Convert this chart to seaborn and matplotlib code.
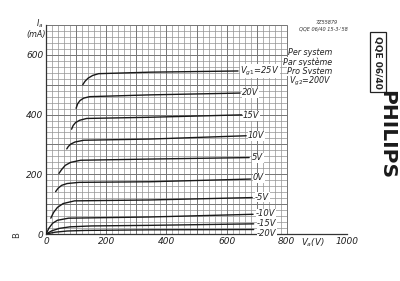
import matplotlib
matplotlib.use("Agg")
import matplotlib.pyplot as plt
import seaborn as sns
import pandas as pd
import numpy as np

# ---- data ----
grid_voltages = ["25V", "20V", "15V", "10V", "5V", "0V", "-5V", "-10V", "-15V", "-20V"]
va_25 = [122, 130, 140, 155, 175, 346, 638]
ia_25 = [500, 512, 522, 531, 537, 542, 546]
va_20 = [100, 105, 113, 125, 145, 346, 645]
ia_20 = [421, 436, 447, 455, 460, 466, 472]
va_15 = [85, 90, 98, 112, 135, 346, 650]
ia_15 = [351, 363, 373, 381, 387, 391, 399]
va_10 = [69, 74, 82, 96, 125, 346, 665]
ia_10 = [285, 293, 301, 308, 314, 318, 329]
va_5 = [43, 52, 64, 82, 115, 346, 675]
ia_5 = [203, 216, 230, 240, 247, 251, 256]
va_0 = [32, 40, 52, 70, 110, 346, 680]
ia_0 = [142, 153, 163, 169, 173, 175, 184]
va_m5 = [16, 25, 38, 57, 95, 346, 685]
ia_m5 = [53, 72, 89, 102, 111, 114, 122]
va_m10 = [0, 10, 22, 38, 75, 346, 688]
ia_m10 = [0, 20, 36, 46, 53, 57, 66]
va_m15 = [0, 20, 45, 80, 150, 346, 690]
ia_m15 = [0, 11, 19, 24, 27, 29, 34]
va_m20 = [0, 30, 70, 130, 346, 690]
ia_m20 = [0, 6, 10, 12, 14, 15]

x_ticks = [0, 200, 400, 600, 800, 1000]
y_ticks = [0, 200, 400, 600]

curves = [(va_25, ia_25), (va_20, ia_20), (va_15, ia_15), (va_10, ia_10),
          (va_5, ia_5), (va_0, ia_0), (va_m5, ia_m5), (va_m10, ia_m10),
          (va_m15, ia_m15), (va_m20, ia_m20)]
frames = []
for name, (xs, ys) in zip(grid_voltages, curves):
    frames.append(pd.DataFrame({"Va": xs, "Ia": ys, "Vg1": name}))
df = pd.concat(frames, ignore_index=True)

# ---- figure ----
sns.set_style("white")
plt.rcParams["font.family"] = ["DejaVu Sans"]
W, H = 400, 281
fig = plt.figure(figsize=(4.0, 2.81), dpi=100)
x0, x1, y0, y1 = 46, 347, 234, 25
ax = fig.add_axes([x0 / W, 1 - y0 / H, (x1 - x0) / W, (y0 - y1) / H])
ax.set_xlim(0, 1000)
ax.set_ylim(0, 700)

# grid (only over 0..800 V, 0..700 mA)
gx = np.arange(0, 801, 20)
gy = np.arange(0, 701, 20)
ax.vlines(gx, 0, 700, colors="#929292", linewidth=0.5, zorder=1)
ax.hlines(gy, 0, 800, colors="#929292", linewidth=0.5, zorder=1)
ax.vlines(gx[::5], 0, 700, colors="#777777", linewidth=0.7, zorder=1)
ax.hlines(gy[::5], 0, 800, colors="#777777", linewidth=0.7, zorder=1)

for name in grid_voltages:
    sub = df[df["Vg1"] == name]
    sns.lineplot(data=sub, x="Va", y="Ia", ax=ax, color="#1a1a1a",
                 linewidth=1.0, sort=False, estimator=None, legend=False, zorder=3)

for s in ["top", "right"]:
    ax.spines[s].set_visible(False)
for s in ["left", "bottom"]:
    ax.spines[s].set_color("#333333")
    ax.spines[s].set_linewidth(0.9)
ax.set_xticks(x_ticks)
ax.set_yticks(y_ticks)
ax.set_xticklabels([str(v) for v in x_ticks], fontsize=6.5, style="italic", color="#222")
ax.set_yticklabels([str(v) for v in y_ticks], fontsize=6.5, style="italic", color="#222")
ax.tick_params(length=0, pad=2)
ax.set_xlabel("")
ax.set_ylabel("")

def ftext(px, py, s, **kw):
    fig.text(px / W, 1 - py / H, s, **kw)

lab_kw = dict(fontsize=6.0, style="italic", color="#222", va="center", ha="left",
              bbox=dict(facecolor="white", edgecolor="none", pad=0.3))
labels_px = [("V$_{g1}$=25V", 240, 71), ("20V", 242, 93), ("15V", 243, 116),
             ("10V", 248, 136), ("5V", 252, 158), ("0V", 253, 178),
             ("-5V", 255, 197), ("-10V", 256, 214), ("-15V", 257, 224),
             ("-20V", 257, 233)]
for s, px, py in labels_px:
    ftext(px, py, s, **lab_kw)

leg_kw = dict(fontsize=5.8, style="italic", color="#222", va="center", ha="right",
              bbox=dict(facecolor="white", edgecolor="none", pad=0.2))
for s, py in [("Per system", 53), ("Par système", 62), ("Pro System", 71),
              ("V$_{g2}$=200V", 81)]:
    ftext(332, py, s, **leg_kw)

ftext(338, 22, "7Z55879", fontsize=3.6, style="italic", ha="right", va="center", color="#333")
ftext(348, 29, "QQE 06/40 15-3-'58", fontsize=3.6, style="italic", ha="right", va="center",
      color="#333", bbox=dict(facecolor="white", edgecolor="none", pad=0.1))

ftext(44, 24, "I$_a$", fontsize=5.8, style="italic", ha="right", va="center", color="#222")
ftext(46, 34, "(mA)", fontsize=5.8, style="italic", ha="right", va="center", color="#222")
ftext(313, 243, "V$_a$(V)", fontsize=6.2, style="italic", ha="center", va="center", color="#222")
ftext(17, 235, "B", fontsize=6, rotation=90, ha="center", va="center", color="#333")

ftext(378, 62, "QQE 06/40", fontsize=6.5, fontweight="bold", rotation=-90,
      ha="center", va="center", color="#222",
      bbox=dict(facecolor="white", edgecolor="#222", linewidth=0.9, pad=2.5))
ftext(387, 135, "PHILIPS", fontsize=14.5, fontweight="bold", rotation=-90,
      ha="center", va="center", color="#1a1a1a")

fig.savefig("out.png", dpi=100)
